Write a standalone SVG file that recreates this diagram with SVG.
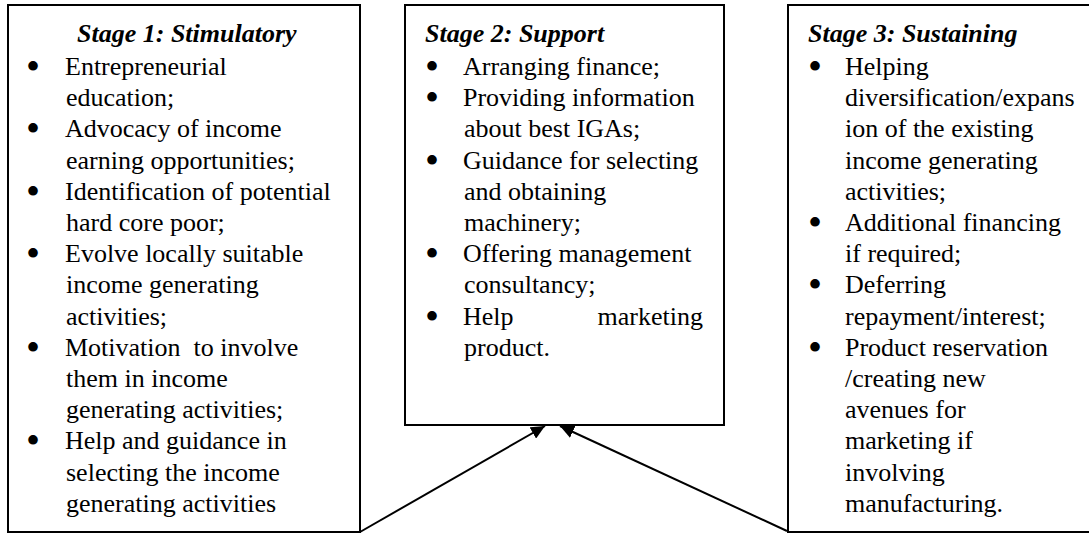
<svg xmlns="http://www.w3.org/2000/svg" width="1089" height="537" viewBox="0 0 1089 537">
<style>
.box{fill:#fff;stroke:#000;stroke-width:2}
.t{font-family:"Liberation Serif","Times New Roman",serif;font-size:26px;fill:#000}
.h{font-weight:bold;font-style:italic}
.b{font-family:"Liberation Serif","Times New Roman",serif;font-size:40px;fill:#000;text-anchor:middle}
.c{stroke:#000;stroke-width:2;fill:none}
</style>
<defs>
<marker id="ah" viewBox="0 0 14 13" refX="14" refY="6.5" markerWidth="14" markerHeight="13" markerUnits="userSpaceOnUse" orient="auto">
<path d="M0,0 L14,6.5 L0,13 z" fill="#000"/>
</marker>
</defs>
<rect width="1089" height="537" fill="#fff"/>
<g id="connectors">
<line class="c" x1="360" y1="532" x2="545" y2="426" marker-end="url(#ah)"/>
<line class="c" x1="787" y1="531" x2="560" y2="426" marker-end="url(#ah)"/>
</g>
<g id="stage1">
<rect class="box" x="8" y="5" width="352" height="527"/>
<text class="t h" x="77" y="42">Stage 1: Stimulatory</text>
<text class="b"><tspan x="33" y="80">•</tspan><tspan x="33" y="142.4">•</tspan><tspan x="33" y="204.8">•</tspan><tspan x="33" y="267.2">•</tspan><tspan x="33" y="360.8">•</tspan><tspan x="33" y="454.4">•</tspan></text>
<text class="t" xml:space="preserve"><tspan x="65" y="75">Entrepreneurial</tspan><tspan x="66" y="106.2">education;</tspan><tspan x="65" y="137.4">Advocacy of income</tspan><tspan x="66" y="168.6">earning opportunities;</tspan><tspan x="65" y="199.8">Identification of potential</tspan><tspan x="66" y="231">hard core poor;</tspan><tspan x="65" y="262.2">Evolve locally suitable</tspan><tspan x="66" y="293.4">income generating</tspan><tspan x="66" y="324.6">activities;</tspan><tspan x="65" y="355.8">Motivation  to involve</tspan><tspan x="66" y="387">them in income</tspan><tspan x="66" y="418.2">generating activities;</tspan><tspan x="65" y="449.4">Help and guidance in</tspan><tspan x="66" y="480.6">selecting the income</tspan><tspan x="66" y="511.8">generating activities</tspan></text>
</g>
<g id="stage2">
<rect class="box" x="405" y="5" width="319" height="420"/>
<text class="t h" x="425" y="42">Stage 2: Support</text>
<text class="b"><tspan x="432" y="80">•</tspan><tspan x="432" y="111.2">•</tspan><tspan x="432" y="173.6">•</tspan><tspan x="432" y="267.2">•</tspan><tspan x="432" y="329.6">•</tspan></text>
<text class="t"><tspan x="463" y="75">Arranging finance;</tspan><tspan x="463" y="106.2">Providing information</tspan><tspan x="464" y="137.4">about best IGAs;</tspan><tspan x="463" y="168.6">Guidance for selecting</tspan><tspan x="464" y="199.8">and obtaining</tspan><tspan x="464" y="231">machinery;</tspan><tspan x="463" y="262.2">Offering management</tspan><tspan x="464" y="293.4">consultancy;</tspan><tspan x="463" y="324.6">Help</tspan><tspan x="464" y="355.8">product.</tspan></text>
<text class="t" x="703" y="324.6" text-anchor="end">marketing</text>
</g>
<g id="stage3">
<rect class="box" x="788" y="5" width="310" height="527"/>
<text class="t h" x="808" y="42">Stage 3: Sustaining</text>
<text class="b"><tspan x="815" y="80">•</tspan><tspan x="815" y="236">•</tspan><tspan x="815" y="298.4">•</tspan><tspan x="815" y="360.8">•</tspan></text>
<text class="t"><tspan x="845" y="75">Helping</tspan><tspan x="845" y="106.2">diversification/expans</tspan><tspan x="845" y="137.4">ion of the existing</tspan><tspan x="845" y="168.6">income generating</tspan><tspan x="845" y="199.8">activities;</tspan><tspan x="845" y="231">Additional financing</tspan><tspan x="845" y="262.2">if required;</tspan><tspan x="845" y="293.4">Deferring</tspan><tspan x="845" y="324.6">repayment/interest;</tspan><tspan x="845" y="355.8">Product reservation</tspan><tspan x="845" y="387">/creating new</tspan><tspan x="845" y="418.2">avenues for</tspan><tspan x="845" y="449.4">marketing if</tspan><tspan x="845" y="480.6">involving</tspan><tspan x="845" y="511.8">manufacturing.</tspan></text>
</g>
</svg>
